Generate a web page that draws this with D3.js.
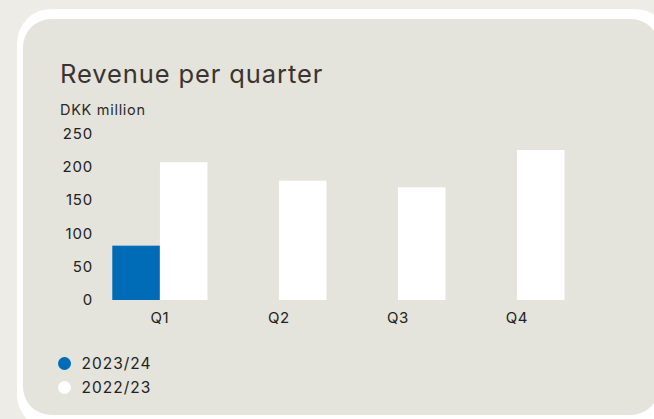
<!DOCTYPE html>
<html>
<head>
<meta charset="utf-8">
<script src="https://cdn.jsdelivr.net/npm/d3@7"></script>
<style>
  body { margin: 0; background: #edece7; }
  text { font-family: Inter, "Liberation Sans", sans-serif; }
</style>
</head>
<body>
<div id="vis-container"></div>
<script>

const width = 654,
    height = 419;

// data
var quarters = ["Q1", "Q2", "Q3", "Q4"];
var series = ["2023/24", "2022/23"];
var values2324 = [81.5, null, null, null];
var values2223 = [206.5, 179, 169, 225];
var yTicks = [0, 50, 100, 150, 200, 250];
var colors = ["#006cb7", "#ffffff"];

var svg = d3.select("#vis-container").append("svg")
    .attr("width", width)
    .attr("height", height);

// card
svg.append("rect")
    .attr("x", 17).attr("y", 9)
    .attr("width", 652).attr("height", 420)
    .attr("rx", 34)
    .attr("fill", "#ffffff");

svg.append("rect")
    .attr("x", 23).attr("y", 19)
    .attr("width", 636).attr("height", 396)
    .attr("rx", 28)
    .attr("fill", "#e4e3dc");

svg.append("text")
    .attr("x", 60).attr("y", 83)
    .attr("font-size", 25.5)
    .attr("letter-spacing", 0.9)
    .attr("fill", "#3a3431")
    .text("Revenue per quarter");

svg.append("text")
    .attr("x", 60).attr("y", 115)
    .attr("font-size", 14.5)
    .attr("letter-spacing", 0.7)
    .attr("fill", "#2a2a2a")
    .text("DKK million");

var x = d3.scaleBand()
    .domain(quarters)
    .range([100.4, 576.4])
    .paddingInner(0.2)
    .paddingOuter(0.1);

var xSub = d3.scaleBand()
    .domain(series)
    .range([0, x.bandwidth()]);

var y = d3.scaleLinear()
    .domain([0, 250])
    .range([300, 133.3]);

var g = svg.append("g");

var rows = quarters.map(function(q, i) {
    return {q: q, vals: [values2324[i], values2223[i]]};
});

g.selectAll("g.grp")
    .data(rows)
    .enter().append("g")
    .attr("class", "grp")
    .attr("transform", function(d) { return "translate(" + x(d.q) + ",0)"; })
    .selectAll("rect")
    .data(function(d) {
        return d.vals.map(function(v, j) { return {s: series[j], v: v, c: colors[j]}; })
            .filter(function(e) { return e.v != null; });
    })
    .enter().append("rect")
    .attr("x", function(d) { return xSub(d.s); })
    .attr("y", function(d) { return y(d.v); })
    .attr("width", xSub.bandwidth())
    .attr("height", function(d) { return y(0) - y(d.v); })
    .attr("fill", function(d) { return d.c; });

// y axis labels
var yAxis = svg.append("g")
    .attr("transform", "translate(93,0)")
    .call(d3.axisLeft(y).tickValues(yTicks).tickSize(0).tickPadding(0));
yAxis.select(".domain").remove();
yAxis.selectAll("text")
    .attr("font-size", 15)
    .attr("letter-spacing", 0.8)
    .attr("fill", "#222");

// x axis labels
var xAxis = svg.append("g")
    .attr("transform", "translate(0,312)")
    .call(d3.axisBottom(x).tickSize(0).tickPadding(0));
xAxis.select(".domain").remove();
xAxis.selectAll("text")
    .attr("font-size", 15)
    .attr("letter-spacing", 0.5)
    .attr("fill", "#222");

// legend
var legend = svg.append("g")
    .selectAll("g")
    .data(series)
    .enter().append("g")
    .attr("transform", function(d, i) { return "translate(64.5," + (363.5 + i * 24) + ")"; });

legend.append("circle")
    .attr("r", 6.5)
    .attr("fill", function(d, i) { return colors[i]; });

legend.append("text")
    .attr("x", 17)
    .attr("dy", "0.35em")
    .attr("font-size", 15.5)
    .attr("letter-spacing", 1)
    .attr("fill", "#222")
    .text(function(d) { return d; });

</script>
</body>
</html>
